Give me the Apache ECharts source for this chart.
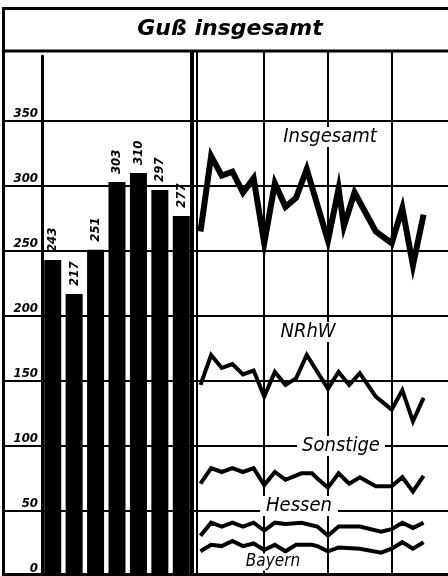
<!DOCTYPE html>
<html>
<head>
<meta charset="utf-8">
<title>Guß insgesamt</title>
<script src="https://cdn.jsdelivr.net/npm/echarts@6/dist/echarts.min.js"></script>
<style>
  html, body { margin: 0; padding: 0; background: #fff; }
  #chart { width: 448px; height: 576px; }
</style>
</head>
<body>
<div id="chart"></div>
<script>
// Jahreswerte (Säulen links)
const barYears = ['1', '2', '3', '4', '5', '6', '7']
const barValues = [243, 217, 251, 303, 310, 297, 277]

// Beschriftung der Werteachse
const yTickLabels = ['0', '50', '100', '150', '200', '250', '300', '350']

// Monatslinien rechts: Monat (ab Beginn) und Wert
const insgesamtMonths = [0, 2, 4, 6, 8, 10, 12, 14, 16, 18, 20, 24, 26, 27, 29, 33, 36, 38, 40, 42]
const insgesamtValues = [265, 323, 308, 311, 295, 306, 256, 302, 284, 291, 313, 258, 298, 269, 295, 265, 256, 283, 239, 278]

const nrhwMonths = [0, 2, 4, 6, 8, 10, 12, 14, 16, 18, 20, 24, 26, 28, 30, 33, 36, 38, 40, 42]
const nrhwValues = [147, 170, 160, 163, 155, 158, 138, 157, 147, 152, 170, 144, 157, 147, 156, 138, 128, 143, 119, 137]

const sonstigeMonths = [0, 2, 4, 6, 8, 10, 12, 14, 16, 19, 21, 22, 24, 26, 28, 30, 33, 36, 38, 40, 42]
const sonstigeValues = [71, 83, 80, 83, 80, 83, 70, 80, 74, 79, 79, 75, 68, 79, 71, 76, 69, 69, 76, 65, 77]

const hessenMonths = [0, 2, 4, 6, 8, 10, 12, 14, 16, 19, 22, 24, 26, 30, 34, 36, 38, 40, 42]
const hessenValues = [31, 41, 38, 41, 38, 41, 35, 41, 40, 41, 38, 31, 38, 38, 34, 36, 41, 37, 41]

const bayernMonths = [0, 2, 4, 6, 8, 10, 12, 14, 16, 18, 21, 22, 24, 26, 30, 34, 36, 38, 40, 42]
const bayernValues = [19, 24, 23, 27, 23, 25, 20, 24, 19, 24, 24, 23, 19, 22, 21, 18, 21, 26, 21, 26]

const FONT = "'DejaVu Sans Condensed', 'DejaVu Sans', sans-serif"

const chart = echarts.init(document.getElementById('chart'), null, { renderer: 'canvas' })

// [Monat, Wert] Paare bauen
function pairs (months, values) {
  return months.map((m, i) => [m, values[i]])
}

function lineSeries (name, months, values, width) {
  return {
    name: name,
    type: 'line',
    xAxisIndex: 2,
    yAxisIndex: 2,
    data: pairs(months, values),
    symbol: 'none',
    lineStyle: { color: '#000', width: width, join: 'miter', miterLimit: 10, cap: 'butt' },
    z: 5
  }
}

// Beschriftung der Linien (weiß hinterlegt, unterbricht das Raster)
function seriesLabel (text, x, y, size, pad) {
  return {
    type: 'text',
    x: x,
    y: y,
    z: 50,
    style: {
      text: text,
      font: 'italic ' + size + 'px ' + FONT,
      fill: '#000',
      textAlign: 'center',
      textVerticalAlign: 'middle',
      backgroundColor: '#fff',
      padding: pad
    }
  }
}

const black = { color: '#000', width: 2 }

const option = {
  animation: false,
  backgroundColor: '#fff',
  grid: [
    // Hintergrundraster über die ganze Breite
    { left: 4, right: 0, top: 56, bottom: 0 },
    // Säulen
    { left: 42, width: 150, top: 56, bottom: 0 },
    // Monatslinien
    { left: 200.5, right: 0, top: 52, bottom: 0 }
  ],
  xAxis: [
    { gridIndex: 0, type: 'value', min: 0, max: 1, show: false },
    {
      gridIndex: 1,
      type: 'category',
      data: barYears,
      axisLine: { show: false },
      axisTick: { show: false },
      axisLabel: { show: false }
    },
    {
      gridIndex: 2,
      type: 'value',
      min: 0,
      max: 46.6,
      interval: 12,
      axisLine: { show: false },
      axisTick: { show: false },
      axisLabel: { show: false },
      splitLine: { show: true, showMinLine: false, showMaxLine: false, lineStyle: black }
    }
  ],
  yAxis: [
    {
      gridIndex: 0,
      type: 'value',
      min: 0,
      max: 400,
      interval: 50,
      axisLine: { show: false },
      axisTick: { show: false },
      axisLabel: { show: false },
      splitLine: { show: true, showMaxLine: false, lineStyle: black }
    },
    {
      gridIndex: 1,
      type: 'value',
      min: 0,
      max: 400,
      interval: 50,
      axisLine: { show: true, lineStyle: { color: '#000', width: 3 } },
      axisTick: { show: false },
      splitLine: { show: false },
      axisLabel: {
        showMaxLabel: false,
        margin: 4,
        verticalAlign: 'bottom',
        padding: [0, 0, 1, 0],
        color: '#000',
        fontFamily: FONT,
        fontStyle: 'italic',
        fontWeight: 'bold',
        fontSize: 13,
        formatter: (v) => yTickLabels[v / 50] || ''
      }
    },
    { gridIndex: 2, type: 'value', min: 0, max: 403.08, show: false }
  ],
  series: [
    {
      name: 'Guß insgesamt',
      type: 'bar',
      xAxisIndex: 1,
      yAxisIndex: 1,
      data: barValues,
      barWidth: 17,
      itemStyle: { color: '#000' },
      label: {
        show: true,
        position: 'top',
        rotate: 90,
        align: 'left',
        verticalAlign: 'middle',
        distance: 8,
        color: '#000',
        fontFamily: FONT,
        fontStyle: 'italic',
        fontWeight: 'bold',
        fontSize: 13
      },
      z: 5
    },
    lineSeries('Insgesamt', insgesamtMonths, insgesamtValues, 6),
    lineSeries('NRhW', nrhwMonths, nrhwValues, 4),
    lineSeries('Sonstige', sonstigeMonths, sonstigeValues, 4),
    lineSeries('Hessen', hessenMonths, hessenValues, 4),
    lineSeries('Bayern', bayernMonths, bayernValues, 4)
  ],
  graphic: [
    // Rahmen und Titelkasten
    { type: 'rect', z: 60, silent: true, shape: { x: 3.5, y: 8.5, width: 470, height: 566 }, style: { fill: 'transparent', stroke: '#000', lineWidth: 3 } },
    { type: 'line', z: 60, silent: true, shape: { x1: 3, y1: 51, x2: 448, y2: 51 }, style: { stroke: '#000', lineWidth: 3 } },
    // Trennlinie zwischen Säulen und Linien
    { type: 'line', z: 60, silent: true, shape: { x1: 192, y1: 51, x2: 192, y2: 576 }, style: { stroke: '#000', lineWidth: 4 } },
    { type: 'line', z: 60, silent: true, shape: { x1: 197, y1: 51, x2: 197, y2: 576 }, style: { stroke: '#000', lineWidth: 2 } },
    {
      type: 'text',
      x: 230,
      y: 29,
      z: 60,
      style: {
        text: 'Guß insgesamt',
        font: "italic bold 22px 'DejaVu Sans', sans-serif",
        fill: '#000',
        textAlign: 'center',
        textVerticalAlign: 'middle'
      }
    },
    seriesLabel('Insgesamt', 330, 137, 20, [0, 3]),
    seriesLabel('NRhW', 308, 332, 20, [0, 3]),
    seriesLabel('Sonstige', 341, 446, 20, [0, 5]),
    seriesLabel('Hessen', 299, 506, 20, [0, 6]),
    seriesLabel('Bayern', 273, 562, 17, [0, 3])
  ]
}

chart.setOption(option)
</script>
</body>
</html>
